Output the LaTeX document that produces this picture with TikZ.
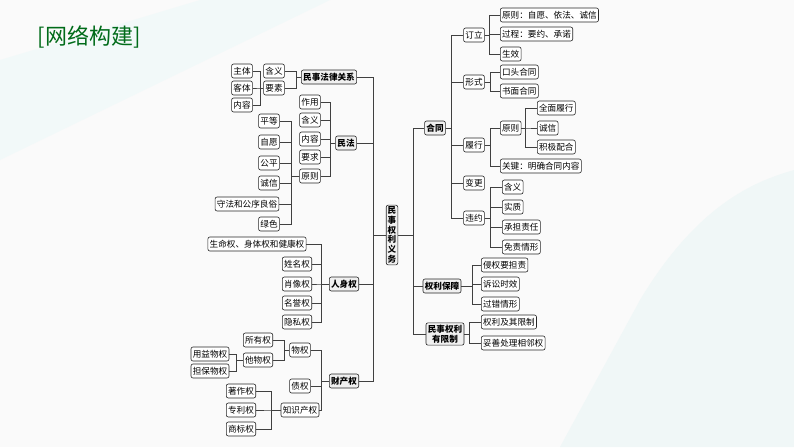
\documentclass[tikz,border=0pt]{standalone}
\usepackage{fontspec}
\setmainfont{Noto Sans CJK SC}
\begin{document}
\begin{tikzpicture}[x=1pt,y=-1pt,
 b/.style={draw=black!85,rounded corners=2pt,fill=white,font=\fontsize{8.6}{9}\selectfont,inner sep=1.8pt,minimum height=14pt,line width=0.6pt},
 m/.style={b,fill=gray!12,font=\fontsize{8.6}{9}\selectfont\bfseries},
 ln/.style={draw=black!75,line width=0.6pt}]
\fill[gray!4] (0,0) rectangle (794,447);
\fill[teal!6] (560,447) -- (640,300) .. controls (700,200) and (760,180) .. (794,170) -- (794,447) -- cycle;
\fill[teal!5] (0,60) -- (200,0) -- (330,0) -- (0,160) -- cycle;
\useasboundingbox (0,0) rectangle (794,447);
\node[text=green!40!black!80!teal,font=\fontsize{22}{24}\selectfont] (title) at (89,37) {[网络构建]};
% left
\node[b] (zt) at (242,71) {主体};
\node[b] (kt) at (242,88) {客体};
\node[b] (nr) at (242,105) {内容};
\node[b] (hy1) at (274,71) {含义};
\node[b] (ys) at (274,88) {要素};
\node[m] (msfl) at (329,77) {民事法律关系};
\node[b] (zy) at (310,102) {作用};
\node[b] (hy2) at (310,120) {含义};
\node[b] (nr2) at (310,139) {内容};
\node[b] (yq) at (310,157) {要求};
\node[b] (yz) at (310,176) {原则};
\node[m] (mf) at (346,143) {民法};
\node[b] (pd) at (269,121) {平等};
\node[b] (zyu) at (269,142) {自愿};
\node[b] (gp) at (269,163) {公平};
\node[b] (cx) at (269,183) {诚信};
\node[b] (sf) at (247,204) {守法和公序良俗};
\node[b] (ls) at (269,224) {绿色};
\node[m,align=center,inner sep=1.5pt,font=\fontsize{8.6}{9.8}\selectfont\bfseries] (mq) at (392,235) {民\\事\\权\\利\\义\\务};
\node[b] (sm) at (257,244) {生命权、身体权和健康权};
\node[b] (xm) at (297,264) {姓名权};
\node[b] (xx) at (297,284) {肖像权};
\node[b] (my) at (297,303) {名誉权};
\node[b] (ysq) at (297,322) {隐私权};
\node[m] (rsq) at (344,284) {人身权};
\node[b] (syq) at (258,340) {所有权};
\node[b] (twq) at (258,360) {他物权};
\node[b] (wq) at (300,350) {物权};
\node[b] (yy) at (210,354) {用益物权};
\node[b] (db) at (210,371) {担保物权};
\node[b] (zq) at (300,386) {债权};
\node[b] (zscq) at (300,410) {知识产权};
\node[m] (ccq) at (344,381) {财产权};
\node[b] (zzq) at (241,391) {著作权};
\node[b] (zl) at (241,410) {专利权};
\node[b] (sb) at (241,429) {商标权};
% right
\node[m] (ht) at (435,128) {合同};
\node[m] (qlbz) at (442,286) {权利保障};
\node[m,align=center,font=\fontsize{8.6}{10.5}\selectfont\bfseries] (ysxz) at (445,334) {民事权利\\有限制};
\node[b] (dl) at (474,35) {订立};
\node[b] (xs) at (474,82) {形式};
\node[b] (lx) at (474,145) {履行};
\node[b] (bg) at (474,183) {变更};
\node[b] (wy) at (474,218) {违约};
\node[b,anchor=west] (yz1) at (500,15) {原则：自愿、依法、诚信};
\node[b,anchor=west] (gc) at (500,34) {过程：要约、承诺};
\node[b,anchor=west] (sx) at (500,54) {生效};
\node[b,anchor=west] (ktht) at (500,72) {口头合同};
\node[b,anchor=west] (smht) at (500,91) {书面合同};
\node[b,anchor=west] (yz3) at (500,128) {原则};
\node[b,anchor=west] (gj) at (500,166) {关键：明确合同内容};
\node[b,anchor=west] (qm) at (537,108) {全面履行};
\node[b,anchor=west] (cx3) at (537,128) {诚信};
\node[b,anchor=west] (jj) at (537,147) {积极配合};
\node[b,anchor=west] (hy3) at (502,187) {含义};
\node[b,anchor=west] (sz) at (502,207) {实质};
\node[b,anchor=west] (cd) at (502,227) {承担责任};
\node[b,anchor=west] (mz) at (502,247) {免责情形};
\node[b,anchor=west] (qq) at (481,265) {侵权要担责};
\node[b,anchor=west] (ss) at (481,284) {诉讼时效};
\node[b,anchor=west] (gc2) at (481,304) {过错情形};
\node[b,anchor=west] (ql) at (481,322) {权利及其限制};
\node[b,anchor=west] (ts) at (481,343) {妥善处理相邻权};
% connectors left
\foreach \c in {msfl,mf,rsq,ccq} \draw[ln] (mq.west) -- ++(-13,0) |- (\c.east);
\foreach \c in {hy1,ys} \draw[ln] (msfl.west) -- ++(-5,0) |- (\c.east);
\foreach \c in {zt,kt,nr} \draw[ln] (ys.west) -- ++(-3,0) |- (\c.east);
\foreach \c in {zy,hy2,nr2,yq,yz} \draw[ln] (mf.west) -- ++(-5,0) |- (\c.east);
\foreach \c in {pd,zyu,gp,cx,sf,ls} \draw[ln] (yz.west) -- ++(-8,0) |- (\c.east);
\foreach \c in {sm,xm,xx,my,ysq} \draw[ln] (rsq.west) -- ++(-8,0) |- (\c.east);
\foreach \c in {wq,zq,zscq} \draw[ln] (ccq.west) -- ++(-8,0) |- (\c.east);
\foreach \c in {syq,twq} \draw[ln] (wq.west) -- ++(-5,0) |- (\c.east);
\foreach \c in {yy,db} \draw[ln] (twq.west) -- ++(-7,0) |- (\c.east);
\foreach \c in {zzq,zl,sb} \draw[ln] (zscq.west) -- ++(-9,0) |- (\c.east);
% connectors right
\foreach \c in {ht,qlbz,ysxz} \draw[ln] (mq.east) -- ++(15,0) |- (\c.west);
\foreach \c in {dl,xs,lx,bg,wy} \draw[ln] (ht.east) -- ++(6,0) |- (\c.west);
\foreach \c in {yz1,gc,sx} \draw[ln] (dl.east) -- ++(5,0) |- (\c.west);
\foreach \c in {ktht,smht} \draw[ln] (xs.east) -- ++(6,0) |- (\c.west);
\foreach \c in {yz3,gj} \draw[ln] (lx.east) -- ++(6,0) |- (\c.west);
\foreach \c in {qm,cx3,jj} \draw[ln] (yz3.east) -- ++(4,0) |- (\c.west);
\foreach \c in {hy3,sz,cd,mz} \draw[ln] (wy.east) -- ++(6,0) |- (\c.west);
\foreach \c in {qq,ss,gc2} \draw[ln] (qlbz.east) -- ++(11,0) |- (\c.west);
\foreach \c in {ql,ts} \draw[ln] (ysxz.east) -- ++(5,0) |- (\c.west);
\end{tikzpicture}
\end{document}
